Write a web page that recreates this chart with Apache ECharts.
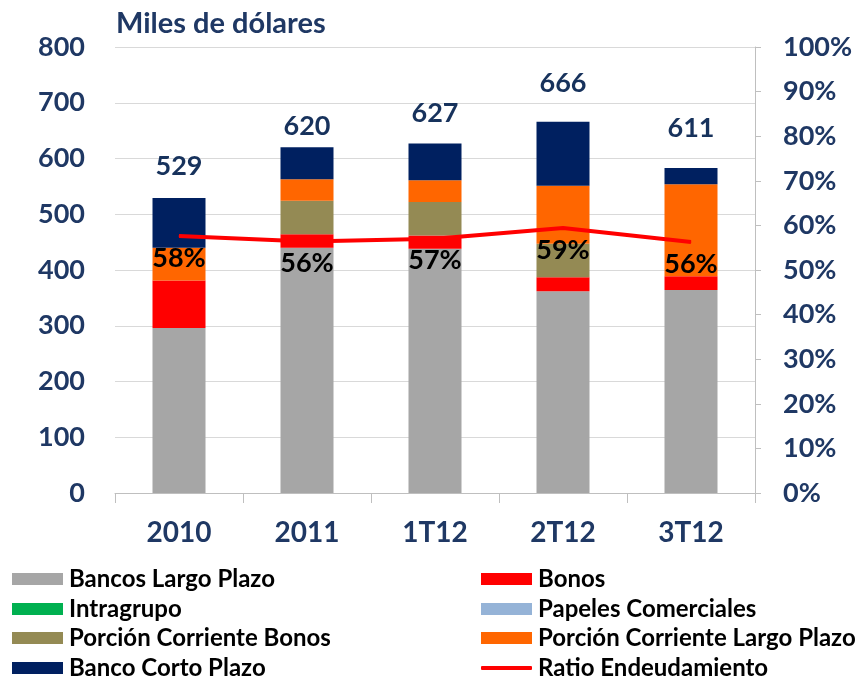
<!DOCTYPE html>
<html>
<head>
<meta charset="utf-8">
<script src="https://cdn.jsdelivr.net/npm/echarts@6/dist/echarts.min.js"></script>
<style>
  html, body { margin: 0; padding: 0; background: #fff; }
  #chart { width: 864px; height: 676px; }
</style>
</head>
<body>
<div id="chart"></div>
<script>
// categorias y valores (miles de dolares)
var periodos = ['2010', '2011', '1T12', '2T12', '3T12'];
var bancosLargoPlazo = [296, 440, 438, 362, 364];
var bonos = [85, 24, 24, 25, 25];
var intragrupo = [0, 0, 0, 0, 0];
var papelesComerciales = [0, 0, 0, 0, 0];
var porcionCorrienteBonos = [0, 60, 60, 60, 0];
var porcionCorrienteLP = [59, 39, 39, 104, 165];
var bancoCortoPlazo = [89, 57, 66, 115, 29];
var totales = [529, 620, 627, 666, 611];
var ratioEndeudamiento = [57.6, 56.4, 57.0, 59.4, 56.3];

// separacion de las etiquetas de total (px), como en el original
var distTotales = [18, 7, 16, 24, 10];

var navy = '#1F3864';
var fuente = 'Lato';

var chart = echarts.init(document.getElementById('chart'));

var barra = function (name, data, color) {
    return {
        name: name,
        type: 'bar',
        stack: 'deuda',
        barWidth: 53,
        data: data,
        itemStyle: {color: color},
        emphasis: {disabled: true}
    };
};

// una leyenda por elemento, para ubicarlas en dos columnas
var leyenda = function (name, left, centerY, icon) {
    var lg = {
        left: left,
        top: centerY - 16,
        itemWidth: 51,
        itemHeight: 12,
        itemGap: 0,
        selectedMode: false,
        textStyle: {fontFamily: fuente, fontWeight: 'bold', fontSize: 24, lineHeight: 24, color: '#000', padding: [0, 0, 0, 1]},
        data: [{name: name, icon: icon || 'rect'}]
    };
    if (icon) {
        lg.itemHeight = 4;
    }
    return lg;
};

var filas = [578, 608, 637, 667];

var option = {
    animation: false,
    title: {
        text: 'Miles de dólares',
        left: 111,
        top: 4,
        textStyle: {fontFamily: fuente, fontWeight: 'bold', fontSize: 29, color: navy}
    },
    grid: {left: 115, right: 109, top: 47, bottom: 183},
    legend: [
        leyenda('Bancos Largo Plazo', 7, filas[0]),
        leyenda('Intragrupo', 7, filas[1]),
        leyenda('Porción Corriente Bonos', 7, filas[2]),
        leyenda('Banco Corto Plazo', 7, filas[3]),
        leyenda('Bonos', 476, filas[0]),
        leyenda('Papeles Comerciales', 476, filas[1]),
        leyenda('Porción Corriente Largo Plazo', 476, filas[2]),
        leyenda('Ratio Endeudamiento', 476, filas[3], 'roundRect')
    ],
    xAxis: {
        type: 'category',
        data: periodos,
        axisLine: {lineStyle: {color: '#BFBFBF'}},
        axisTick: {show: true, length: 10, lineStyle: {color: '#BFBFBF'}},
        axisLabel: {fontFamily: fuente, fontWeight: 'bold', fontSize: 28, color: navy, margin: 26}
    },
    yAxis: [{
        type: 'value',
        min: 0,
        max: 800,
        interval: 100,
        axisLine: {show: false},
        axisTick: {show: false},
        splitLine: {lineStyle: {color: '#D9D9D9'}},
        axisLabel: {fontFamily: fuente, fontWeight: 'bold', fontSize: 27, color: navy, margin: 30}
    }, {
        type: 'value',
        min: 0,
        max: 100,
        interval: 10,
        position: 'right',
        axisLine: {show: true, lineStyle: {color: '#BFBFBF'}},
        axisTick: {show: true, length: 6, lineStyle: {color: '#BFBFBF'}},
        splitLine: {show: false},
        axisLabel: {fontFamily: fuente, fontWeight: 'bold', fontSize: 27, color: navy, margin: 28, formatter: '{value}%'}
    }],
    series: [
        barra('Bancos Largo Plazo', bancosLargoPlazo, '#A6A6A6'),
        barra('Bonos', bonos, '#FF0000'),
        barra('Intragrupo', intragrupo, '#00B050'),
        barra('Papeles Comerciales', papelesComerciales, '#95B3D7'),
        barra('Porción Corriente Bonos', porcionCorrienteBonos, '#948A54'),
        barra('Porción Corriente Largo Plazo', porcionCorrienteLP, '#FF6600'),
        barra('Banco Corto Plazo', bancoCortoPlazo, '#002060'),
        {
            name: 'Total',
            type: 'scatter',
            data: totales.map(function (v, i) {
                return {value: v, label: {distance: distTotales[i]}};
            }),
            symbolSize: 1,
            silent: true,
            itemStyle: {opacity: 0},
            label: {
                show: true,
                position: 'top',
                fontFamily: fuente,
                fontWeight: 'bold',
                fontSize: 27,
                color: '#17325C',
                opacity: 1
            }
        },
        {
            name: 'Ratio Endeudamiento',
            type: 'line',
            yAxisIndex: 1,
            data: ratioEndeudamiento,
            symbol: 'circle',
            symbolSize: 1,
            showSymbol: true,
            lineStyle: {color: '#FF0000', width: 4},
            itemStyle: {color: '#FF0000'},
            z: 5,
            label: {
                show: true,
                position: 'bottom',
                distance: 8,
                fontFamily: fuente,
                fontWeight: 'bold',
                fontSize: 27,
                color: '#000',
                formatter: function (p) {
                    return Math.round(p.value) + '%';
                }
            }
        }
    ]
};

chart.setOption(option);
</script>
</body>
</html>
